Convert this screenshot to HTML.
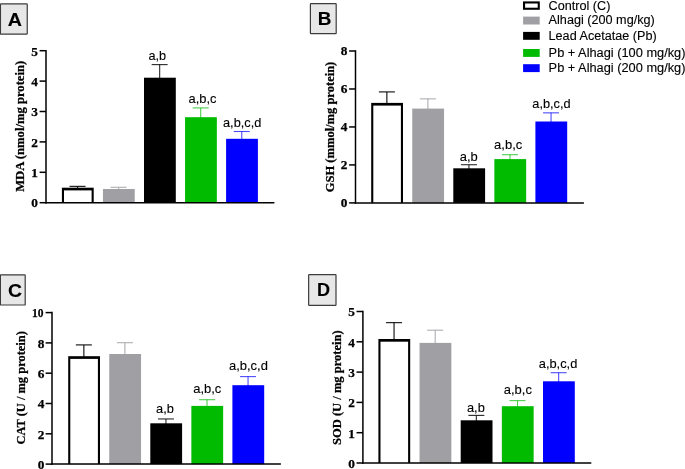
<!DOCTYPE html>
<html><head><meta charset="utf-8"><title>Figure</title>
<style>html,body{margin:0;padding:0;background:#fff;}svg{display:block;will-change:transform;}text{fill:#000;}</style></head>
<body>
<svg width="685" height="469" viewBox="0 0 685 469">
<rect width="685" height="469" fill="#fff"/>
<line x1="77.55" y1="186.40" x2="77.55" y2="188.70" stroke="#000000" stroke-width="1.25" stroke-opacity="0.85"/>
<line x1="69.55" y1="186.40" x2="85.55" y2="186.40" stroke="#000000" stroke-width="1.25" stroke-opacity="0.85"/>
<rect x="61.90" y="187.70" width="31.80" height="15.00" fill="#000"/>
<rect x="64.00" y="190.40" width="27.60" height="12.30" fill="#fff"/>
<line x1="118.60" y1="187.30" x2="118.60" y2="190.00" stroke="#a0a0a4" stroke-width="1.1" stroke-opacity="0.85"/>
<line x1="110.60" y1="187.30" x2="126.60" y2="187.30" stroke="#a0a0a4" stroke-width="1.1" stroke-opacity="0.85"/>
<rect x="102.95" y="189.00" width="31.80" height="13.70" fill="#a0a0a4"/>
<line x1="159.65" y1="64.60" x2="159.65" y2="78.70" stroke="#000000" stroke-width="1.15" stroke-opacity="0.8"/>
<line x1="151.65" y1="64.60" x2="167.65" y2="64.60" stroke="#000000" stroke-width="1.15" stroke-opacity="0.8"/>
<rect x="144.00" y="77.70" width="31.80" height="125.00" fill="#000000"/>
<line x1="200.70" y1="107.90" x2="200.70" y2="118.20" stroke="#00bb00" stroke-width="1.1" stroke-opacity="0.7"/>
<line x1="192.70" y1="107.90" x2="208.70" y2="107.90" stroke="#00bb00" stroke-width="1.1" stroke-opacity="0.7"/>
<rect x="185.05" y="117.20" width="31.80" height="85.50" fill="#00bb00"/>
<line x1="241.75" y1="131.50" x2="241.75" y2="139.80" stroke="#0000ff" stroke-width="1.1" stroke-opacity="0.7"/>
<line x1="233.75" y1="131.50" x2="249.75" y2="131.50" stroke="#0000ff" stroke-width="1.1" stroke-opacity="0.7"/>
<rect x="226.10" y="138.80" width="31.80" height="63.90" fill="#0000ff"/>
<line x1="46.00" y1="49.95" x2="46.00" y2="203.45" stroke="#000" stroke-width="1.5"/>
<line x1="45.25" y1="202.70" x2="274.40" y2="202.70" stroke="#000" stroke-width="1.5"/>
<line x1="39.60" y1="202.70" x2="46.00" y2="202.70" stroke="#000" stroke-width="1.5"/>
<text x="31.25" y="206.90" font-size="12.5" textLength="6.65" lengthAdjust="spacingAndGlyphs" font-family="Liberation Serif, serif" font-weight="bold" stroke="#000" stroke-width="0.25">0</text>
<line x1="39.60" y1="172.30" x2="46.00" y2="172.30" stroke="#000" stroke-width="1.5"/>
<text x="31.25" y="177.10" font-size="12.5" textLength="6.65" lengthAdjust="spacingAndGlyphs" font-family="Liberation Serif, serif" font-weight="bold" stroke="#000" stroke-width="0.25">1</text>
<line x1="39.60" y1="141.90" x2="46.00" y2="141.90" stroke="#000" stroke-width="1.5"/>
<text x="31.25" y="146.70" font-size="12.5" textLength="6.65" lengthAdjust="spacingAndGlyphs" font-family="Liberation Serif, serif" font-weight="bold" stroke="#000" stroke-width="0.25">2</text>
<line x1="39.60" y1="111.50" x2="46.00" y2="111.50" stroke="#000" stroke-width="1.5"/>
<text x="31.25" y="116.30" font-size="12.5" textLength="6.65" lengthAdjust="spacingAndGlyphs" font-family="Liberation Serif, serif" font-weight="bold" stroke="#000" stroke-width="0.25">3</text>
<line x1="39.60" y1="81.10" x2="46.00" y2="81.10" stroke="#000" stroke-width="1.5"/>
<text x="31.25" y="85.90" font-size="12.5" textLength="6.65" lengthAdjust="spacingAndGlyphs" font-family="Liberation Serif, serif" font-weight="bold" stroke="#000" stroke-width="0.25">4</text>
<line x1="39.60" y1="50.70" x2="46.00" y2="50.70" stroke="#000" stroke-width="1.5"/>
<text x="31.25" y="55.50" font-size="12.5" textLength="6.65" lengthAdjust="spacingAndGlyphs" font-family="Liberation Serif, serif" font-weight="bold" stroke="#000" stroke-width="0.25">5</text>
<text transform="translate(24.00,191.80) scale(1.06,1) rotate(-90)" font-size="12.5" textLength="131.00" lengthAdjust="spacingAndGlyphs" font-family="Liberation Serif, serif" font-weight="bold" stroke="#000" stroke-width="0.25">MDA (nmol/mg protein)</text>
<text x="148.40" y="59.90" font-size="12.4" textLength="17.60" lengthAdjust="spacingAndGlyphs" font-family="Liberation Sans, sans-serif" stroke="#000" stroke-width="0.12">a,b</text>
<text x="188.60" y="102.90" font-size="12.4" textLength="27.90" lengthAdjust="spacingAndGlyphs" font-family="Liberation Sans, sans-serif" stroke="#000" stroke-width="0.12">a,b,c</text>
<text x="223.00" y="126.70" font-size="12.4" textLength="38.30" lengthAdjust="spacingAndGlyphs" font-family="Liberation Sans, sans-serif" stroke="#000" stroke-width="0.12">a,b,c,d</text>
<line x1="386.85" y1="91.90" x2="386.85" y2="103.90" stroke="#000000" stroke-width="1.25" stroke-opacity="0.85"/>
<line x1="378.85" y1="91.90" x2="394.85" y2="91.90" stroke="#000000" stroke-width="1.25" stroke-opacity="0.85"/>
<rect x="371.20" y="102.90" width="31.80" height="100.00" fill="#000"/>
<rect x="373.30" y="105.60" width="27.60" height="97.30" fill="#fff"/>
<line x1="427.90" y1="98.85" x2="427.90" y2="109.60" stroke="#a0a0a4" stroke-width="1.1" stroke-opacity="0.85"/>
<line x1="419.90" y1="98.85" x2="435.90" y2="98.85" stroke="#a0a0a4" stroke-width="1.1" stroke-opacity="0.85"/>
<rect x="412.25" y="108.60" width="31.80" height="94.30" fill="#a0a0a4"/>
<line x1="468.95" y1="164.70" x2="468.95" y2="169.30" stroke="#000000" stroke-width="1.15" stroke-opacity="0.8"/>
<line x1="460.95" y1="164.70" x2="476.95" y2="164.70" stroke="#000000" stroke-width="1.15" stroke-opacity="0.8"/>
<rect x="453.30" y="168.30" width="31.80" height="34.60" fill="#000000"/>
<line x1="510.00" y1="154.70" x2="510.00" y2="160.10" stroke="#00bb00" stroke-width="1.1" stroke-opacity="0.7"/>
<line x1="502.00" y1="154.70" x2="518.00" y2="154.70" stroke="#00bb00" stroke-width="1.1" stroke-opacity="0.7"/>
<rect x="494.35" y="159.10" width="31.80" height="43.80" fill="#00bb00"/>
<line x1="551.05" y1="112.85" x2="551.05" y2="122.50" stroke="#0000ff" stroke-width="1.1" stroke-opacity="0.7"/>
<line x1="543.05" y1="112.85" x2="559.05" y2="112.85" stroke="#0000ff" stroke-width="1.1" stroke-opacity="0.7"/>
<rect x="535.40" y="121.50" width="31.80" height="81.40" fill="#0000ff"/>
<line x1="355.50" y1="50.25" x2="355.50" y2="203.65" stroke="#000" stroke-width="1.5"/>
<line x1="354.75" y1="202.90" x2="583.90" y2="202.90" stroke="#000" stroke-width="1.5"/>
<line x1="349.10" y1="202.90" x2="355.50" y2="202.90" stroke="#000" stroke-width="1.5"/>
<text x="340.75" y="207.30" font-size="12.5" textLength="6.65" lengthAdjust="spacingAndGlyphs" font-family="Liberation Serif, serif" font-weight="bold" stroke="#000" stroke-width="0.25">0</text>
<line x1="349.10" y1="164.93" x2="355.50" y2="164.93" stroke="#000" stroke-width="1.5"/>
<text x="340.75" y="169.33" font-size="12.5" textLength="6.65" lengthAdjust="spacingAndGlyphs" font-family="Liberation Serif, serif" font-weight="bold" stroke="#000" stroke-width="0.25">2</text>
<line x1="349.10" y1="126.95" x2="355.50" y2="126.95" stroke="#000" stroke-width="1.5"/>
<text x="340.75" y="131.35" font-size="12.5" textLength="6.65" lengthAdjust="spacingAndGlyphs" font-family="Liberation Serif, serif" font-weight="bold" stroke="#000" stroke-width="0.25">4</text>
<line x1="349.10" y1="88.97" x2="355.50" y2="88.97" stroke="#000" stroke-width="1.5"/>
<text x="340.75" y="93.38" font-size="12.5" textLength="6.65" lengthAdjust="spacingAndGlyphs" font-family="Liberation Serif, serif" font-weight="bold" stroke="#000" stroke-width="0.25">6</text>
<line x1="349.10" y1="51.00" x2="355.50" y2="51.00" stroke="#000" stroke-width="1.5"/>
<text x="340.75" y="55.40" font-size="12.5" textLength="6.65" lengthAdjust="spacingAndGlyphs" font-family="Liberation Serif, serif" font-weight="bold" stroke="#000" stroke-width="0.25">8</text>
<text transform="translate(333.60,192.20) scale(1.06,1) rotate(-90)" font-size="12.5" textLength="130.50" lengthAdjust="spacingAndGlyphs" font-family="Liberation Serif, serif" font-weight="bold" stroke="#000" stroke-width="0.25">GSH (mmol/mg protein)</text>
<text x="459.70" y="160.90" font-size="12.4" textLength="18.00" lengthAdjust="spacingAndGlyphs" font-family="Liberation Sans, sans-serif" stroke="#000" stroke-width="0.12">a,b</text>
<text x="494.10" y="149.40" font-size="12.4" textLength="28.20" lengthAdjust="spacingAndGlyphs" font-family="Liberation Sans, sans-serif" stroke="#000" stroke-width="0.12">a,b,c</text>
<text x="532.30" y="107.60" font-size="12.4" textLength="38.30" lengthAdjust="spacingAndGlyphs" font-family="Liberation Sans, sans-serif" stroke="#000" stroke-width="0.12">a,b,c,d</text>
<line x1="83.85" y1="344.90" x2="83.85" y2="357.20" stroke="#000000" stroke-width="1.25" stroke-opacity="0.85"/>
<line x1="75.85" y1="344.90" x2="91.85" y2="344.90" stroke="#000000" stroke-width="1.25" stroke-opacity="0.85"/>
<rect x="68.20" y="356.20" width="31.80" height="107.90" fill="#000"/>
<rect x="70.30" y="358.90" width="27.60" height="105.20" fill="#fff"/>
<line x1="124.90" y1="342.70" x2="124.90" y2="355.00" stroke="#a0a0a4" stroke-width="1.1" stroke-opacity="0.85"/>
<line x1="116.90" y1="342.70" x2="132.90" y2="342.70" stroke="#a0a0a4" stroke-width="1.1" stroke-opacity="0.85"/>
<rect x="109.25" y="354.00" width="31.80" height="110.10" fill="#a0a0a4"/>
<line x1="165.95" y1="418.95" x2="165.95" y2="424.30" stroke="#000000" stroke-width="1.15" stroke-opacity="0.8"/>
<line x1="157.95" y1="418.95" x2="173.95" y2="418.95" stroke="#000000" stroke-width="1.15" stroke-opacity="0.8"/>
<rect x="150.30" y="423.30" width="31.80" height="40.80" fill="#000000"/>
<line x1="207.00" y1="399.70" x2="207.00" y2="406.90" stroke="#00bb00" stroke-width="1.1" stroke-opacity="0.7"/>
<line x1="199.00" y1="399.70" x2="215.00" y2="399.70" stroke="#00bb00" stroke-width="1.1" stroke-opacity="0.7"/>
<rect x="191.35" y="405.90" width="31.80" height="58.20" fill="#00bb00"/>
<line x1="248.05" y1="376.60" x2="248.05" y2="386.20" stroke="#0000ff" stroke-width="1.1" stroke-opacity="0.7"/>
<line x1="240.05" y1="376.60" x2="256.05" y2="376.60" stroke="#0000ff" stroke-width="1.1" stroke-opacity="0.7"/>
<rect x="232.40" y="385.20" width="31.80" height="78.90" fill="#0000ff"/>
<line x1="52.00" y1="311.85" x2="52.00" y2="464.85" stroke="#000" stroke-width="1.5"/>
<line x1="51.25" y1="464.10" x2="280.90" y2="464.10" stroke="#000" stroke-width="1.5"/>
<line x1="45.60" y1="464.10" x2="52.00" y2="464.10" stroke="#000" stroke-width="1.5"/>
<text x="37.65" y="468.80" font-size="12.5" textLength="6.65" lengthAdjust="spacingAndGlyphs" font-family="Liberation Serif, serif" font-weight="bold" stroke="#000" stroke-width="0.25">0</text>
<line x1="45.60" y1="433.80" x2="52.00" y2="433.80" stroke="#000" stroke-width="1.5"/>
<text x="37.65" y="438.50" font-size="12.5" textLength="6.65" lengthAdjust="spacingAndGlyphs" font-family="Liberation Serif, serif" font-weight="bold" stroke="#000" stroke-width="0.25">2</text>
<line x1="45.60" y1="403.50" x2="52.00" y2="403.50" stroke="#000" stroke-width="1.5"/>
<text x="37.65" y="408.20" font-size="12.5" textLength="6.65" lengthAdjust="spacingAndGlyphs" font-family="Liberation Serif, serif" font-weight="bold" stroke="#000" stroke-width="0.25">4</text>
<line x1="45.60" y1="373.20" x2="52.00" y2="373.20" stroke="#000" stroke-width="1.5"/>
<text x="37.65" y="377.90" font-size="12.5" textLength="6.65" lengthAdjust="spacingAndGlyphs" font-family="Liberation Serif, serif" font-weight="bold" stroke="#000" stroke-width="0.25">6</text>
<line x1="45.60" y1="342.90" x2="52.00" y2="342.90" stroke="#000" stroke-width="1.5"/>
<text x="37.65" y="347.60" font-size="12.5" textLength="6.65" lengthAdjust="spacingAndGlyphs" font-family="Liberation Serif, serif" font-weight="bold" stroke="#000" stroke-width="0.25">8</text>
<line x1="45.60" y1="312.60" x2="52.00" y2="312.60" stroke="#000" stroke-width="1.5"/>
<text x="32.00" y="317.30" font-size="12.5" textLength="11.50" lengthAdjust="spacingAndGlyphs" font-family="Liberation Serif, serif" font-weight="bold" stroke="#000" stroke-width="0.25">10</text>
<text transform="translate(24.90,444.60) scale(1.06,1) rotate(-90)" font-size="12.5" textLength="113.50" lengthAdjust="spacingAndGlyphs" font-family="Liberation Serif, serif" font-weight="bold" stroke="#000" stroke-width="0.25">CAT (U / mg protein)</text>
<text x="156.10" y="413.00" font-size="12.4" textLength="17.80" lengthAdjust="spacingAndGlyphs" font-family="Liberation Sans, sans-serif" stroke="#000" stroke-width="0.12">a,b</text>
<text x="193.20" y="392.90" font-size="12.4" textLength="28.10" lengthAdjust="spacingAndGlyphs" font-family="Liberation Sans, sans-serif" stroke="#000" stroke-width="0.12">a,b,c</text>
<text x="229.00" y="370.40" font-size="12.4" textLength="38.90" lengthAdjust="spacingAndGlyphs" font-family="Liberation Sans, sans-serif" stroke="#000" stroke-width="0.12">a,b,c,d</text>
<line x1="394.05" y1="322.60" x2="394.05" y2="340.00" stroke="#000000" stroke-width="1.25" stroke-opacity="0.85"/>
<line x1="386.05" y1="322.60" x2="402.05" y2="322.60" stroke="#000000" stroke-width="1.25" stroke-opacity="0.85"/>
<rect x="378.40" y="339.00" width="31.80" height="124.00" fill="#000"/>
<rect x="380.50" y="341.70" width="27.60" height="121.30" fill="#fff"/>
<line x1="435.20" y1="330.20" x2="435.20" y2="343.90" stroke="#a0a0a4" stroke-width="1.1" stroke-opacity="0.85"/>
<line x1="427.20" y1="330.20" x2="443.20" y2="330.20" stroke="#a0a0a4" stroke-width="1.1" stroke-opacity="0.85"/>
<rect x="419.55" y="342.90" width="31.80" height="120.10" fill="#a0a0a4"/>
<line x1="476.35" y1="415.40" x2="476.35" y2="421.30" stroke="#000000" stroke-width="1.15" stroke-opacity="0.8"/>
<line x1="468.35" y1="415.40" x2="484.35" y2="415.40" stroke="#000000" stroke-width="1.15" stroke-opacity="0.8"/>
<rect x="460.70" y="420.30" width="31.80" height="42.70" fill="#000000"/>
<line x1="517.50" y1="400.60" x2="517.50" y2="407.20" stroke="#00bb00" stroke-width="1.1" stroke-opacity="0.7"/>
<line x1="509.50" y1="400.60" x2="525.50" y2="400.60" stroke="#00bb00" stroke-width="1.1" stroke-opacity="0.7"/>
<rect x="501.85" y="406.20" width="31.80" height="56.80" fill="#00bb00"/>
<line x1="558.65" y1="372.70" x2="558.65" y2="382.30" stroke="#0000ff" stroke-width="1.1" stroke-opacity="0.7"/>
<line x1="550.65" y1="372.70" x2="566.65" y2="372.70" stroke="#0000ff" stroke-width="1.1" stroke-opacity="0.7"/>
<rect x="543.00" y="381.30" width="31.80" height="81.70" fill="#0000ff"/>
<line x1="362.90" y1="310.75" x2="362.90" y2="463.75" stroke="#000" stroke-width="1.5"/>
<line x1="362.15" y1="463.00" x2="591.30" y2="463.00" stroke="#000" stroke-width="1.5"/>
<line x1="356.50" y1="463.00" x2="362.90" y2="463.00" stroke="#000" stroke-width="1.5"/>
<text x="348.15" y="467.90" font-size="12.5" textLength="6.65" lengthAdjust="spacingAndGlyphs" font-family="Liberation Serif, serif" font-weight="bold" stroke="#000" stroke-width="0.25">0</text>
<line x1="356.50" y1="432.70" x2="362.90" y2="432.70" stroke="#000" stroke-width="1.5"/>
<text x="348.15" y="437.60" font-size="12.5" textLength="6.65" lengthAdjust="spacingAndGlyphs" font-family="Liberation Serif, serif" font-weight="bold" stroke="#000" stroke-width="0.25">1</text>
<line x1="356.50" y1="402.40" x2="362.90" y2="402.40" stroke="#000" stroke-width="1.5"/>
<text x="348.15" y="407.30" font-size="12.5" textLength="6.65" lengthAdjust="spacingAndGlyphs" font-family="Liberation Serif, serif" font-weight="bold" stroke="#000" stroke-width="0.25">2</text>
<line x1="356.50" y1="372.10" x2="362.90" y2="372.10" stroke="#000" stroke-width="1.5"/>
<text x="348.15" y="377.00" font-size="12.5" textLength="6.65" lengthAdjust="spacingAndGlyphs" font-family="Liberation Serif, serif" font-weight="bold" stroke="#000" stroke-width="0.25">3</text>
<line x1="356.50" y1="341.80" x2="362.90" y2="341.80" stroke="#000" stroke-width="1.5"/>
<text x="348.15" y="346.70" font-size="12.5" textLength="6.65" lengthAdjust="spacingAndGlyphs" font-family="Liberation Serif, serif" font-weight="bold" stroke="#000" stroke-width="0.25">4</text>
<line x1="356.50" y1="311.50" x2="362.90" y2="311.50" stroke="#000" stroke-width="1.5"/>
<text x="348.15" y="316.40" font-size="12.5" textLength="6.65" lengthAdjust="spacingAndGlyphs" font-family="Liberation Serif, serif" font-weight="bold" stroke="#000" stroke-width="0.25">5</text>
<text transform="translate(340.70,445.00) scale(1.06,1) rotate(-90)" font-size="12.5" textLength="114.70" lengthAdjust="spacingAndGlyphs" font-family="Liberation Serif, serif" font-weight="bold" stroke="#000" stroke-width="0.25">SOD (U / mg protein)</text>
<text x="467.00" y="411.60" font-size="12.4" textLength="17.80" lengthAdjust="spacingAndGlyphs" font-family="Liberation Sans, sans-serif" stroke="#000" stroke-width="0.12">a,b</text>
<text x="503.80" y="394.20" font-size="12.4" textLength="28.10" lengthAdjust="spacingAndGlyphs" font-family="Liberation Sans, sans-serif" stroke="#000" stroke-width="0.12">a,b,c</text>
<text x="538.80" y="367.70" font-size="12.4" textLength="38.50" lengthAdjust="spacingAndGlyphs" font-family="Liberation Sans, sans-serif" stroke="#000" stroke-width="0.12">a,b,c,d</text>
<rect x="0.45" y="3.9" width="26.8" height="30.3" rx="0.6" fill="#e7e7e7" stroke="#3c3c3c" stroke-width="1.2"/>
<text transform="translate(7.7,25.6) scale(1.07,1)" font-size="18.4" font-weight="bold" font-family="Liberation Sans, sans-serif" stroke="#000" stroke-width="0.12">A</text>
<rect x="310.4" y="3.7" width="25.8" height="29.9" rx="0.6" fill="#e7e7e7" stroke="#3c3c3c" stroke-width="1.2"/>
<text transform="translate(317.7,25.0) scale(1.05,1)" font-size="18.0" font-weight="bold" font-family="Liberation Sans, sans-serif" stroke="#000" stroke-width="0.12">B</text>
<rect x="0.4" y="274.8" width="24.8" height="30.2" rx="0.6" fill="#e7e7e7" stroke="#3c3c3c" stroke-width="1.2"/>
<text transform="translate(8.0,296.5) scale(1.03,1)" font-size="18.8" font-weight="bold" font-family="Liberation Sans, sans-serif" stroke="#000" stroke-width="0.12">C</text>
<rect x="308.65" y="274.7" width="27.35" height="30.6" rx="0.6" fill="#e7e7e7" stroke="#3c3c3c" stroke-width="1.2"/>
<text transform="translate(317.0,295.9) scale(0.98,1)" font-size="18.4" font-weight="bold" font-family="Liberation Sans, sans-serif" stroke="#000" stroke-width="0.12">D</text>
<rect x="524.05" y="2.45" width="14.70" height="6.30" fill="#fff" stroke="#000" stroke-width="2.1"/>
<text x="548.6" y="9.6" font-size="12.3" textLength="61.8" lengthAdjust="spacingAndGlyphs" font-family="Liberation Sans, sans-serif" stroke="#000" stroke-width="0.12">Control (C)</text>
<rect x="523.1" y="16.6" width="16.6" height="7.9" fill="#a0a0a4"/>
<text x="548.6" y="24.4" font-size="12.3" textLength="106.2" lengthAdjust="spacingAndGlyphs" font-family="Liberation Sans, sans-serif" stroke="#000" stroke-width="0.12">Alhagi (200 mg/kg)</text>
<rect x="523.1" y="31.9" width="16.6" height="7.9" fill="#000000"/>
<text x="548.6" y="40.0" font-size="12.3" textLength="108.0" lengthAdjust="spacingAndGlyphs" font-family="Liberation Sans, sans-serif" stroke="#000" stroke-width="0.12">Lead Acetatae (Pb)</text>
<rect x="523.1" y="49.0" width="16.6" height="7.9" fill="#00bb00"/>
<text x="548.6" y="57.1" font-size="12.3" textLength="136.9" lengthAdjust="spacingAndGlyphs" font-family="Liberation Sans, sans-serif" stroke="#000" stroke-width="0.12">Pb + Alhagi (100 mg/kg)</text>
<rect x="523.1" y="64.2" width="16.6" height="7.9" fill="#0000ff"/>
<text x="548.6" y="72.2" font-size="12.3" textLength="136.9" lengthAdjust="spacingAndGlyphs" font-family="Liberation Sans, sans-serif" stroke="#000" stroke-width="0.12">Pb + Alhagi (200 mg/kg)</text>
</svg>
</body></html>
